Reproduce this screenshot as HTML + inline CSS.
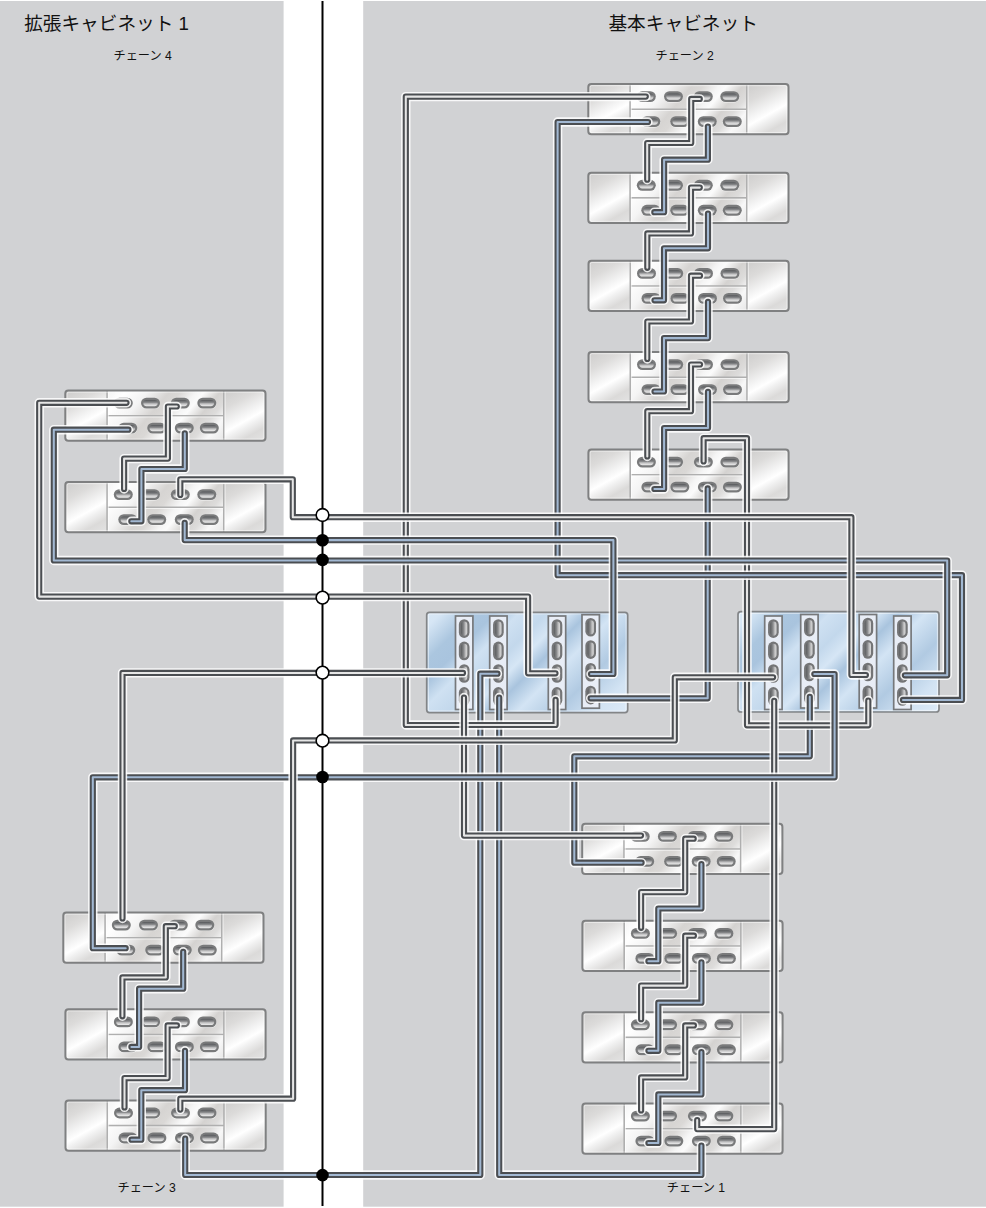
<!DOCTYPE html>
<html lang="ja"><head><meta charset="utf-8"><title>Cabling diagram</title>
<style>
html,body{margin:0;padding:0;background:#fff}
body{width:986px;height:1208px;position:relative;overflow:hidden;font-family:"Liberation Sans",sans-serif}
svg{position:absolute;left:0;top:0;display:block}
.t{position:absolute;white-space:nowrap;color:transparent;line-height:1;overflow:hidden;height:1.1em}
</style></head><body>
<svg width="986" height="1208" viewBox="0 0 986 1208">
<defs>
<linearGradient id="gS" gradientUnits="userSpaceOnUse" x1="0" y1="0" x2="31.7" y2="56.8">
<stop offset="0" stop-color="#cdcccb"/><stop offset=".25" stop-color="#dcdbda"/><stop offset=".46" stop-color="#f3f3f3"/><stop offset=".57" stop-color="#ffffff"/><stop offset=".65" stop-color="#f1f1f1"/><stop offset=".8" stop-color="#dbdad9"/><stop offset="1" stop-color="#e4e4e4"/>
</linearGradient>
<linearGradient id="gS2" href="#gS" x1="158.5" y1="0" x2="190.2" y2="56.8"/>
<linearGradient id="gM" gradientUnits="userSpaceOnUse" x1="41.8" y1="0" x2="135.7" y2="78">
<stop offset="0" stop-color="#f3f3f3"/><stop offset=".12" stop-color="#ffffff"/><stop offset=".26" stop-color="#f4f4f4"/><stop offset=".40" stop-color="#d6d4d2"/><stop offset=".47" stop-color="#dad8d6"/><stop offset=".57" stop-color="#f5f5f5"/><stop offset=".62" stop-color="#fbfbfb"/><stop offset=".72" stop-color="#d4d2d0"/><stop offset=".80" stop-color="#dddcdb"/><stop offset=".88" stop-color="#f8f8f8"/><stop offset="1" stop-color="#e6e6e6"/>
</linearGradient>
<linearGradient id="gP" x1="0" y1="0" x2="0" y2="1">
<stop offset="0" stop-color="#55575a"/><stop offset=".4" stop-color="#88898b"/><stop offset=".62" stop-color="#c2c2c3"/><stop offset="1" stop-color="#eeeeee"/>
</linearGradient>
<linearGradient id="gV" x1="0" y1="0" x2="1" y2="0">
<stop offset="0" stop-color="#5a5c5e"/><stop offset=".45" stop-color="#8c8d8f"/><stop offset=".7" stop-color="#bdbdbe"/><stop offset="1" stop-color="#dcdcdc"/>
</linearGradient>
<linearGradient id="gC" x1="0" y1="0" x2="1.2" y2="0.597">
<stop offset="0" stop-color="#d9e8f6"/><stop offset=".05" stop-color="#d6e6f5"/><stop offset=".16" stop-color="#abc6df"/><stop offset=".23" stop-color="#a9c4de"/><stop offset=".31" stop-color="#cfe1f2"/><stop offset=".40" stop-color="#c3d8ec"/><stop offset=".47" stop-color="#d6e6f5"/><stop offset=".54" stop-color="#a9c4de"/><stop offset=".63" stop-color="#d3e4f4"/><stop offset=".76" stop-color="#b1cae2"/><stop offset=".89" stop-color="#d2e3f3"/><stop offset="1" stop-color="#dceaf8"/>
</linearGradient>
<g id="pt"><rect x="-9.5" y="-4.9" width="19" height="10.9" rx="5.45" fill="#fff" opacity=".75"/><rect x="-9.5" y="-5.45" width="19" height="10.9" rx="5.45" fill="#797a7b"/><rect x="-7.2" y="-3.15" width="14.4" height="6.3" rx="3.15" fill="url(#gP)"/></g>
<g id="pv"><rect x="-4.9" y="-9.3" width="10.7" height="18.6" rx="5.35" fill="#fff" opacity=".7"/><rect x="-5.35" y="-9.3" width="10.7" height="18.6" rx="5.35" fill="#747577"/><rect x="-3.1" y="-7.05" width="6.2" height="14.1" rx="3.1" fill="url(#gV)"/></g>
<g id="shelf">
<rect x="0" y="0" width="200.2" height="50.3" rx="3" fill="#e8e8e8"/>
<rect x="0" y="0" width="43" height="50.3" rx="3" fill="url(#gS)"/>
<rect x="157.5" y="0" width="42.7" height="50.3" rx="3" fill="url(#gS2)"/>
<rect x="41.8" y="0" width="116.7" height="50.3" fill="url(#gM)"/>
<path d="M41.8 0V50.3 M158.5 0V50.3 M41.8 25.2H158.5" stroke="#afafaf" stroke-width="1.6" fill="none"/>
<path d="M43.1 1V50.3 M159.8 1V50.3 M43 26.5H157.8" stroke="#ffffff" stroke-width="1" fill="none" opacity=".6"/>
<rect x="1.7" y="1.7" width="196.8" height="46.9" rx="1.8" fill="none" stroke="#fff" stroke-width="1" opacity=".5"/>
<rect x="0" y="0" width="200.2" height="50.3" rx="3" fill="none" stroke="#7f8081" stroke-width="2"/>
<use href="#pt" x="58.0" y="12.6"/><use href="#pt" x="85.2" y="12.6"/><use href="#pt" x="115.0" y="12.6"/><use href="#pt" x="141.5" y="12.6"/><use href="#pt" x="62.5" y="37.6"/><use href="#pt" x="91.4" y="37.6"/><use href="#pt" x="119.0" y="37.6"/><use href="#pt" x="144.0" y="37.6"/>
</g>
</defs>
<rect width="986" height="1208" fill="#fff"/>
<rect x="0" y="1" width="283.6" height="1205.7" fill="#d1d2d4"/>
<rect x="363.2" y="1" width="622.8" height="1205.7" fill="#d1d2d4"/>
<use href="#shelf" x="588.3" y="84.0"/>
<use href="#shelf" x="588.3" y="172.7"/>
<use href="#shelf" x="588.5" y="260.8"/>
<use href="#shelf" x="588.5" y="352.0"/>
<use href="#shelf" x="588.4" y="449.5"/>
<use href="#shelf" x="65.3" y="390.5"/>
<use href="#shelf" x="65.3" y="482.0"/>
<use href="#shelf" x="63.3" y="912.5"/>
<use href="#shelf" x="65.4" y="1009.3"/>
<use href="#shelf" x="65.5" y="1100.4"/>
<use href="#shelf" x="582.2" y="823.8"/>
<use href="#shelf" x="582.4" y="920.8"/>
<use href="#shelf" x="582.4" y="1012.2"/>
<use href="#shelf" x="582.4" y="1103.5"/>
<rect x="426.7" y="612.3" width="201.0" height="100.3" rx="2.8" fill="url(#gC)"/>
<rect x="428.3" y="613.9" width="197.8" height="97.1" rx="1.6" fill="none" stroke="#fff" stroke-opacity=".55" stroke-width="1"/>
<rect x="426.7" y="612.3" width="201.0" height="100.3" rx="2.8" fill="none" stroke="#838587" stroke-width="1.7"/>
<rect x="455.5" y="616.0" width="17.4" height="93.5" fill="#e8edf6" stroke="#76787b" stroke-width="1.7"/>
<use href="#pv" x="464.2" y="628.6"/>
<use href="#pv" x="464.2" y="650.9"/>
<use href="#pv" x="464.2" y="673.5"/>
<use href="#pv" x="464.2" y="696.4"/>
<rect x="489.7" y="616.0" width="17.4" height="93.5" fill="#e8edf6" stroke="#76787b" stroke-width="1.7"/>
<use href="#pv" x="498.4" y="628.6"/>
<use href="#pv" x="498.4" y="650.9"/>
<use href="#pv" x="498.4" y="673.5"/>
<use href="#pv" x="498.4" y="696.4"/>
<rect x="548.3" y="616.0" width="17.4" height="93.5" fill="#e8edf6" stroke="#76787b" stroke-width="1.7"/>
<use href="#pv" x="557.0" y="628.6"/>
<use href="#pv" x="557.0" y="650.9"/>
<use href="#pv" x="557.0" y="673.5"/>
<use href="#pv" x="557.0" y="696.4"/>
<rect x="582.0" y="614.7" width="17.4" height="93.5" fill="#e8edf6" stroke="#76787b" stroke-width="1.7"/>
<use href="#pv" x="590.7" y="627.3"/>
<use href="#pv" x="590.7" y="649.6"/>
<use href="#pv" x="590.7" y="672.2"/>
<use href="#pv" x="590.7" y="695.1"/>
<rect x="738.0" y="611.7" width="201.0" height="100.3" rx="2.8" fill="url(#gC)"/>
<rect x="739.6" y="613.3000000000001" width="197.8" height="97.1" rx="1.6" fill="none" stroke="#fff" stroke-opacity=".55" stroke-width="1"/>
<rect x="738.0" y="611.7" width="201.0" height="100.3" rx="2.8" fill="none" stroke="#838587" stroke-width="1.7"/>
<rect x="764.7" y="616.0" width="17.4" height="93.5" fill="#e8edf6" stroke="#76787b" stroke-width="1.7"/>
<use href="#pv" x="773.4" y="628.6"/>
<use href="#pv" x="773.4" y="650.9"/>
<use href="#pv" x="773.4" y="673.5"/>
<use href="#pv" x="773.4" y="696.4"/>
<rect x="800.7" y="614.5" width="17.4" height="93.5" fill="#e8edf6" stroke="#76787b" stroke-width="1.7"/>
<use href="#pv" x="809.4" y="627.1"/>
<use href="#pv" x="809.4" y="649.4"/>
<use href="#pv" x="809.4" y="672.0"/>
<use href="#pv" x="809.4" y="694.9"/>
<rect x="859.2" y="614.5" width="17.4" height="93.5" fill="#e8edf6" stroke="#76787b" stroke-width="1.7"/>
<use href="#pv" x="867.9" y="627.1"/>
<use href="#pv" x="867.9" y="649.4"/>
<use href="#pv" x="867.9" y="672.0"/>
<use href="#pv" x="867.9" y="694.9"/>
<rect x="893.7" y="616.0" width="17.4" height="93.5" fill="#e8edf6" stroke="#76787b" stroke-width="1.7"/>
<use href="#pv" x="902.4" y="628.6"/>
<use href="#pv" x="902.4" y="650.9"/>
<use href="#pv" x="902.4" y="673.5"/>
<use href="#pv" x="902.4" y="696.4"/>
<path d="M322.5 1V1206" stroke="#000" stroke-width="2"/>
<g fill="none" stroke-linejoin="round" stroke-linecap="round"><path d="M699.8 98.9 L691.2 98.9 L691.2 143.0 L647.2 143.0 L647.2 179.7" stroke="#fff" stroke-opacity=".85" stroke-width="9.4"/><path d="M699.8 98.9 L691.2 98.9 L691.2 143.0 L647.2 143.0 L647.2 179.7" stroke="#4b4e52" stroke-width="6.2"/><path d="M699.8 98.9 L691.2 98.9 L691.2 143.0 L647.2 143.0 L647.2 179.7" stroke="#e6e6e6" stroke-width="2.05"/></g>
<g fill="none" stroke-linejoin="round" stroke-linecap="round"><path d="M707.9 126.6 L707.9 159.7 L664.1 159.7 L664.1 212.2 L654.3 212.2" stroke="#fff" stroke-opacity=".85" stroke-width="9.4"/><path d="M707.9 126.6 L707.9 159.7 L664.1 159.7 L664.1 212.2 L654.3 212.2" stroke="#4b4e52" stroke-width="6.2"/><path d="M707.9 126.6 L707.9 159.7 L664.1 159.7 L664.1 212.2 L654.3 212.2" stroke="#a2b8d2" stroke-width="2.05"/></g>
<g fill="none" stroke-linejoin="round" stroke-linecap="round"><path d="M699.8 187.6 L691.0 187.6 L691.0 233.4 L647.3 233.4 L647.3 267.8" stroke="#fff" stroke-opacity=".85" stroke-width="9.4"/><path d="M699.8 187.6 L691.0 187.6 L691.0 233.4 L647.3 233.4 L647.3 267.8" stroke="#4b4e52" stroke-width="6.2"/><path d="M699.8 187.6 L691.0 187.6 L691.0 233.4 L647.3 233.4 L647.3 267.8" stroke="#e6e6e6" stroke-width="2.05"/></g>
<g fill="none" stroke-linejoin="round" stroke-linecap="round"><path d="M708.0 213.6 L708.0 248.3 L664.0 248.3 L664.0 300.3 L654.5 300.3" stroke="#fff" stroke-opacity=".85" stroke-width="9.4"/><path d="M708.0 213.6 L708.0 248.3 L664.0 248.3 L664.0 300.3 L654.5 300.3" stroke="#4b4e52" stroke-width="6.2"/><path d="M708.0 213.6 L708.0 248.3 L664.0 248.3 L664.0 300.3 L654.5 300.3" stroke="#a2b8d2" stroke-width="2.05"/></g>
<g fill="none" stroke-linejoin="round" stroke-linecap="round"><path d="M700.0 275.7 L691.0 275.7 L691.0 321.5 L647.3 321.5 L647.3 359.0" stroke="#fff" stroke-opacity=".85" stroke-width="9.4"/><path d="M700.0 275.7 L691.0 275.7 L691.0 321.5 L647.3 321.5 L647.3 359.0" stroke="#4b4e52" stroke-width="6.2"/><path d="M700.0 275.7 L691.0 275.7 L691.0 321.5 L647.3 321.5 L647.3 359.0" stroke="#e6e6e6" stroke-width="2.05"/></g>
<g fill="none" stroke-linejoin="round" stroke-linecap="round"><path d="M708.0 301.8 L708.0 338.1 L664.0 338.1 L664.0 391.5 L654.5 391.5" stroke="#fff" stroke-opacity=".85" stroke-width="9.4"/><path d="M708.0 301.8 L708.0 338.1 L664.0 338.1 L664.0 391.5 L654.5 391.5" stroke="#4b4e52" stroke-width="6.2"/><path d="M708.0 301.8 L708.0 338.1 L664.0 338.1 L664.0 391.5 L654.5 391.5" stroke="#a2b8d2" stroke-width="2.05"/></g>
<g fill="none" stroke-linejoin="round" stroke-linecap="round"><path d="M700.0 364.5 L691.0 364.5 L691.0 411.2 L647.3 411.2 L647.3 456.5" stroke="#fff" stroke-opacity=".85" stroke-width="9.4"/><path d="M700.0 364.5 L691.0 364.5 L691.0 411.2 L647.3 411.2 L647.3 456.5" stroke="#4b4e52" stroke-width="6.2"/><path d="M700.0 364.5 L691.0 364.5 L691.0 411.2 L647.3 411.2 L647.3 456.5" stroke="#e6e6e6" stroke-width="2.05"/></g>
<g fill="none" stroke-linejoin="round" stroke-linecap="round"><path d="M708.0 391.8 L708.0 428.0 L664.1 428.0 L664.1 489.0 L654.4 489.0" stroke="#fff" stroke-opacity=".85" stroke-width="9.4"/><path d="M708.0 391.8 L708.0 428.0 L664.1 428.0 L664.1 489.0 L654.4 489.0" stroke="#4b4e52" stroke-width="6.2"/><path d="M708.0 391.8 L708.0 428.0 L664.1 428.0 L664.1 489.0 L654.4 489.0" stroke="#a2b8d2" stroke-width="2.05"/></g>
<g fill="none" stroke-linejoin="round" stroke-linecap="round"><path d="M176.8 406.5 L167.9 406.5 L167.9 458.6 L124.1 458.6 L124.1 489.0" stroke="#fff" stroke-opacity=".85" stroke-width="9.4"/><path d="M176.8 406.5 L167.9 406.5 L167.9 458.6 L124.1 458.6 L124.1 489.0" stroke="#4b4e52" stroke-width="6.2"/><path d="M176.8 406.5 L167.9 406.5 L167.9 458.6 L124.1 458.6 L124.1 489.0" stroke="#e6e6e6" stroke-width="2.05"/></g>
<g fill="none" stroke-linejoin="round" stroke-linecap="round"><path d="M184.8 433.3 L184.8 469.0 L141.4 469.0 L141.4 521.3 L131.3 521.3" stroke="#fff" stroke-opacity=".85" stroke-width="9.4"/><path d="M184.8 433.3 L184.8 469.0 L141.4 469.0 L141.4 521.3 L131.3 521.3" stroke="#4b4e52" stroke-width="6.2"/><path d="M184.8 433.3 L184.8 469.0 L141.4 469.0 L141.4 521.3 L131.3 521.3" stroke="#a2b8d2" stroke-width="2.05"/></g>
<g fill="none" stroke-linejoin="round" stroke-linecap="round"><path d="M174.8 926.2 L165.8 926.2 L165.8 977.4 L122.4 977.4 L122.4 1016.3" stroke="#fff" stroke-opacity=".85" stroke-width="9.4"/><path d="M174.8 926.2 L165.8 926.2 L165.8 977.4 L122.4 977.4 L122.4 1016.3" stroke="#4b4e52" stroke-width="6.2"/><path d="M174.8 926.2 L165.8 926.2 L165.8 977.4 L122.4 977.4 L122.4 1016.3" stroke="#e6e6e6" stroke-width="2.05"/></g>
<g fill="none" stroke-linejoin="round" stroke-linecap="round"><path d="M183.2 951.8 L183.2 988.7 L139.1 988.7 L139.1 1046.9 L131.4 1046.9" stroke="#fff" stroke-opacity=".85" stroke-width="9.4"/><path d="M183.2 951.8 L183.2 988.7 L139.1 988.7 L139.1 1046.9 L131.4 1046.9" stroke="#4b4e52" stroke-width="6.2"/><path d="M183.2 951.8 L183.2 988.7 L139.1 988.7 L139.1 1046.9 L131.4 1046.9" stroke="#a2b8d2" stroke-width="2.05"/></g>
<g fill="none" stroke-linejoin="round" stroke-linecap="round"><path d="M176.9 1025.4 L167.6 1025.4 L167.6 1078.1 L124.5 1078.1 L124.5 1107.4" stroke="#fff" stroke-opacity=".85" stroke-width="9.4"/><path d="M176.9 1025.4 L167.6 1025.4 L167.6 1078.1 L124.5 1078.1 L124.5 1107.4" stroke="#4b4e52" stroke-width="6.2"/><path d="M176.9 1025.4 L167.6 1025.4 L167.6 1078.1 L124.5 1078.1 L124.5 1107.4" stroke="#e6e6e6" stroke-width="2.05"/></g>
<g fill="none" stroke-linejoin="round" stroke-linecap="round"><path d="M185.0 1050.8 L185.0 1090.2 L141.3 1090.2 L141.3 1139.7 L131.5 1139.7" stroke="#fff" stroke-opacity=".85" stroke-width="9.4"/><path d="M185.0 1050.8 L185.0 1090.2 L141.3 1090.2 L141.3 1139.7 L131.5 1139.7" stroke="#4b4e52" stroke-width="6.2"/><path d="M185.0 1050.8 L185.0 1090.2 L141.3 1090.2 L141.3 1139.7 L131.5 1139.7" stroke="#a2b8d2" stroke-width="2.05"/></g>
<g fill="none" stroke-linejoin="round" stroke-linecap="round"><path d="M693.7 838.7 L685.2 838.7 L685.2 892.1 L641.1 892.1 L641.1 927.8" stroke="#fff" stroke-opacity=".85" stroke-width="9.4"/><path d="M693.7 838.7 L685.2 838.7 L685.2 892.1 L641.1 892.1 L641.1 927.8" stroke="#4b4e52" stroke-width="6.2"/><path d="M693.7 838.7 L685.2 838.7 L685.2 892.1 L641.1 892.1 L641.1 927.8" stroke="#e6e6e6" stroke-width="2.05"/></g>
<g fill="none" stroke-linejoin="round" stroke-linecap="round"><path d="M701.4 864.1 L701.4 908.5 L658.3 908.5 L658.3 961.2 L648.4 961.2" stroke="#fff" stroke-opacity=".85" stroke-width="9.4"/><path d="M701.4 864.1 L701.4 908.5 L658.3 908.5 L658.3 961.2 L648.4 961.2" stroke="#4b4e52" stroke-width="6.2"/><path d="M701.4 864.1 L701.4 908.5 L658.3 908.5 L658.3 961.2 L648.4 961.2" stroke="#a2b8d2" stroke-width="2.05"/></g>
<g fill="none" stroke-linejoin="round" stroke-linecap="round"><path d="M693.9 935.7 L685.2 935.7 L685.2 985.6 L641.1 985.6 L641.1 1019.2" stroke="#fff" stroke-opacity=".85" stroke-width="9.4"/><path d="M693.9 935.7 L685.2 935.7 L685.2 985.6 L641.1 985.6 L641.1 1019.2" stroke="#4b4e52" stroke-width="6.2"/><path d="M693.9 935.7 L685.2 935.7 L685.2 985.6 L641.1 985.6 L641.1 1019.2" stroke="#e6e6e6" stroke-width="2.05"/></g>
<g fill="none" stroke-linejoin="round" stroke-linecap="round"><path d="M701.4 962.3 L701.4 1002.7 L658.3 1002.7 L658.3 1050.8 L648.4 1050.8" stroke="#fff" stroke-opacity=".85" stroke-width="9.4"/><path d="M701.4 962.3 L701.4 1002.7 L658.3 1002.7 L658.3 1050.8 L648.4 1050.8" stroke="#4b4e52" stroke-width="6.2"/><path d="M701.4 962.3 L701.4 1002.7 L658.3 1002.7 L658.3 1050.8 L648.4 1050.8" stroke="#a2b8d2" stroke-width="2.05"/></g>
<g fill="none" stroke-linejoin="round" stroke-linecap="round"><path d="M693.9 1025.4 L685.2 1025.4 L685.2 1077.4 L641.1 1077.4 L641.1 1110.5" stroke="#fff" stroke-opacity=".85" stroke-width="9.4"/><path d="M693.9 1025.4 L685.2 1025.4 L685.2 1077.4 L641.1 1077.4 L641.1 1110.5" stroke="#4b4e52" stroke-width="6.2"/><path d="M693.9 1025.4 L685.2 1025.4 L685.2 1077.4 L641.1 1077.4 L641.1 1110.5" stroke="#e6e6e6" stroke-width="2.05"/></g>
<g fill="none" stroke-linejoin="round" stroke-linecap="round"><path d="M701.4 1052.1 L701.4 1094.4 L658.3 1094.4 L658.3 1143.0 L648.4 1143.0" stroke="#fff" stroke-opacity=".85" stroke-width="9.4"/><path d="M701.4 1052.1 L701.4 1094.4 L658.3 1094.4 L658.3 1143.0 L648.4 1143.0" stroke="#4b4e52" stroke-width="6.2"/><path d="M701.4 1052.1 L701.4 1094.4 L658.3 1094.4 L658.3 1143.0 L648.4 1143.0" stroke="#a2b8d2" stroke-width="2.05"/></g>
<g fill="none" stroke-linejoin="round" stroke-linecap="round"><path d="M322.5 777.3 L92.8 777.3 L92.8 948.2 L125.7 948.2" stroke="#fff" stroke-opacity=".85" stroke-width="9.4"/><path d="M322.5 777.3 L92.8 777.3 L92.8 948.2 L125.7 948.2" stroke="#4b4e52" stroke-width="6.2"/><path d="M322.5 777.3 L92.8 777.3 L92.8 948.2 L125.7 948.2" stroke="#a2b8d2" stroke-width="2.05"/></g>
<g fill="none" stroke-linejoin="round" stroke-linecap="round"><path d="M185.2 1138.5 L185.2 1175.0 L322.5 1175.0" stroke="#fff" stroke-opacity=".85" stroke-width="9.4"/><path d="M185.2 1138.5 L185.2 1175.0 L322.5 1175.0" stroke="#4b4e52" stroke-width="6.2"/><path d="M185.2 1138.5 L185.2 1175.0 L322.5 1175.0" stroke="#a2b8d2" stroke-width="2.05"/></g>
<g fill="none" stroke-linejoin="round" stroke-linecap="round"><path d="M184.7 522.8 L184.7 540.1 L322.5 540.1" stroke="#fff" stroke-opacity=".85" stroke-width="9.4"/><path d="M184.7 522.8 L184.7 540.1 L322.5 540.1" stroke="#4b4e52" stroke-width="6.2"/><path d="M184.7 522.8 L184.7 540.1 L322.5 540.1" stroke="#a2b8d2" stroke-width="2.05"/></g>
<g fill="none" stroke-linejoin="round" stroke-linecap="round"><path d="M128.4 429.7 L53.8 429.7 L53.8 560.5 L322.5 560.5" stroke="#fff" stroke-opacity=".85" stroke-width="9.4"/><path d="M128.4 429.7 L53.8 429.7 L53.8 560.5 L322.5 560.5" stroke="#4b4e52" stroke-width="6.2"/><path d="M128.4 429.7 L53.8 429.7 L53.8 560.5 L322.5 560.5" stroke="#a2b8d2" stroke-width="2.05"/></g>
<g fill="none" stroke-linejoin="round" stroke-linecap="round"><path d="M126.5 402.8 L39.2 402.8 L39.2 596.6 L322.5 596.6" stroke="#fff" stroke-opacity=".85" stroke-width="9.4"/><path d="M126.5 402.8 L39.2 402.8 L39.2 596.6 L322.5 596.6" stroke="#4b4e52" stroke-width="6.2"/><path d="M126.5 402.8 L39.2 402.8 L39.2 596.6 L322.5 596.6" stroke="#e6e6e6" stroke-width="2.05"/></g>
<g fill="none" stroke-linejoin="round" stroke-linecap="round"><path d="M180.3 494.9 L180.3 479.3 L292.8 479.3 L292.8 517.2 L322.5 517.2" stroke="#fff" stroke-opacity=".85" stroke-width="9.4"/><path d="M180.3 494.9 L180.3 479.3 L292.8 479.3 L292.8 517.2 L322.5 517.2" stroke="#4b4e52" stroke-width="6.2"/><path d="M180.3 494.9 L180.3 479.3 L292.8 479.3 L292.8 517.2 L322.5 517.2" stroke="#e6e6e6" stroke-width="2.05"/></g>
<g fill="none" stroke-linejoin="round" stroke-linecap="round"><path d="M322.5 672.9 L122.5 672.9 L122.5 918.5" stroke="#fff" stroke-opacity=".85" stroke-width="9.4"/><path d="M322.5 672.9 L122.5 672.9 L122.5 918.5" stroke="#4b4e52" stroke-width="6.2"/><path d="M322.5 672.9 L122.5 672.9 L122.5 918.5" stroke="#e6e6e6" stroke-width="2.05"/></g>
<g fill="none" stroke-linejoin="round" stroke-linecap="round"><path d="M322.5 740.4 L293.1 740.4 L293.1 1098.7 L180.3 1098.7 L180.3 1109.6" stroke="#fff" stroke-opacity=".85" stroke-width="9.4"/><path d="M322.5 740.4 L293.1 740.4 L293.1 1098.7 L180.3 1098.7 L180.3 1109.6" stroke="#4b4e52" stroke-width="6.2"/><path d="M322.5 740.4 L293.1 740.4 L293.1 1098.7 L180.3 1098.7 L180.3 1109.6" stroke="#e6e6e6" stroke-width="2.05"/></g>
<g fill="none" stroke-linejoin="round" stroke-linecap="round"><path d="M322.5 1175.0 L480.3 1175.0 L480.3 673.7 L497.5 673.7" stroke="#fff" stroke-opacity=".85" stroke-width="9.4"/><path d="M322.5 1175.0 L480.3 1175.0 L480.3 673.7 L497.5 673.7" stroke="#4b4e52" stroke-width="6.2"/><path d="M322.5 1175.0 L480.3 1175.0 L480.3 673.7 L497.5 673.7" stroke="#a2b8d2" stroke-width="2.05"/></g>
<g fill="none" stroke-linejoin="round" stroke-linecap="round"><path d="M499.2 697.5 L499.2 1175.0 L701.4 1175.0 L701.4 1145.6" stroke="#fff" stroke-opacity=".85" stroke-width="9.4"/><path d="M499.2 697.5 L499.2 1175.0 L701.4 1175.0 L701.4 1145.6" stroke="#4b4e52" stroke-width="6.2"/><path d="M499.2 697.5 L499.2 1175.0 L701.4 1175.0 L701.4 1145.6" stroke="#a2b8d2" stroke-width="2.05"/></g>
<g fill="none" stroke-linejoin="round" stroke-linecap="round"><path d="M809.8 696.8 L809.8 756.3 L574.3 756.3 L574.3 862.7 L641.6 862.7" stroke="#fff" stroke-opacity=".85" stroke-width="9.4"/><path d="M809.8 696.8 L809.8 756.3 L574.3 756.3 L574.3 862.7 L641.6 862.7" stroke="#4b4e52" stroke-width="6.2"/><path d="M809.8 696.8 L809.8 756.3 L574.3 756.3 L574.3 862.7 L641.6 862.7" stroke="#a2b8d2" stroke-width="2.05"/></g>
<g fill="none" stroke-linejoin="round" stroke-linecap="round"><path d="M707.7 488.4 L707.7 698.3 L590.6 698.3" stroke="#fff" stroke-opacity=".85" stroke-width="9.4"/><path d="M707.7 488.4 L707.7 698.3 L590.6 698.3" stroke="#4b4e52" stroke-width="6.2"/><path d="M707.7 488.4 L707.7 698.3 L590.6 698.3" stroke="#a2b8d2" stroke-width="2.05"/></g>
<g fill="none" stroke-linejoin="round" stroke-linecap="round"><path d="M703.6 461.5 L703.6 438.2 L747.0 438.2 L747.0 725.3 L868.3 725.3 L868.3 700.5" stroke="#fff" stroke-opacity=".85" stroke-width="9.4"/><path d="M703.6 461.5 L703.6 438.2 L747.0 438.2 L747.0 725.3 L868.3 725.3 L868.3 700.5" stroke="#4b4e52" stroke-width="6.2"/><path d="M703.6 461.5 L703.6 438.2 L747.0 438.2 L747.0 725.3 L868.3 725.3 L868.3 700.5" stroke="#e6e6e6" stroke-width="2.05"/></g>
<g fill="none" stroke-linejoin="round" stroke-linecap="round"><path d="M645.8 96.6 L405.8 96.6 L405.8 725.0 L555.6 725.0 L555.6 699.8" stroke="#fff" stroke-opacity=".85" stroke-width="9.4"/><path d="M645.8 96.6 L405.8 96.6 L405.8 725.0 L555.6 725.0 L555.6 699.8" stroke="#4b4e52" stroke-width="6.2"/><path d="M645.8 96.6 L405.8 96.6 L405.8 725.0 L555.6 725.0 L555.6 699.8" stroke="#e6e6e6" stroke-width="2.05"/></g>
<g fill="none" stroke-linejoin="round" stroke-linecap="round"><path d="M648.0 122.0 L557.6 122.0 L557.6 575.2 L962.0 575.2 L962.0 699.9 L903.0 699.9" stroke="#fff" stroke-opacity=".85" stroke-width="9.4"/><path d="M648.0 122.0 L557.6 122.0 L557.6 575.2 L962.0 575.2 L962.0 699.9 L903.0 699.9" stroke="#4b4e52" stroke-width="6.2"/><path d="M648.0 122.0 L557.6 122.0 L557.6 575.2 L962.0 575.2 L962.0 699.9 L903.0 699.9" stroke="#a2b8d2" stroke-width="2.05"/></g>
<g fill="none" stroke-linejoin="round" stroke-linecap="round"><path d="M322.5 560.5 L947.2 560.5 L947.2 675.3 L904.9 675.3" stroke="#fff" stroke-opacity=".85" stroke-width="9.4"/><path d="M322.5 560.5 L947.2 560.5 L947.2 675.3 L904.9 675.3" stroke="#4b4e52" stroke-width="6.2"/><path d="M322.5 560.5 L947.2 560.5 L947.2 675.3 L904.9 675.3" stroke="#a2b8d2" stroke-width="2.05"/></g>
<g fill="none" stroke-linejoin="round" stroke-linecap="round"><path d="M322.5 517.2 L851.4 517.2 L851.4 675.0 L865.9 675.0" stroke="#fff" stroke-opacity=".85" stroke-width="9.4"/><path d="M322.5 517.2 L851.4 517.2 L851.4 675.0 L865.9 675.0" stroke="#4b4e52" stroke-width="6.2"/><path d="M322.5 517.2 L851.4 517.2 L851.4 675.0 L865.9 675.0" stroke="#e6e6e6" stroke-width="2.05"/></g>
<g fill="none" stroke-linejoin="round" stroke-linecap="round"><path d="M322.5 540.1 L613.4 540.1 L613.4 674.0 L591.0 674.0" stroke="#fff" stroke-opacity=".85" stroke-width="9.4"/><path d="M322.5 540.1 L613.4 540.1 L613.4 674.0 L591.0 674.0" stroke="#4b4e52" stroke-width="6.2"/><path d="M322.5 540.1 L613.4 540.1 L613.4 674.0 L591.0 674.0" stroke="#a2b8d2" stroke-width="2.05"/></g>
<g fill="none" stroke-linejoin="round" stroke-linecap="round"><path d="M322.5 596.6 L528.1 596.6 L528.1 673.3 L555.5 673.3" stroke="#fff" stroke-opacity=".85" stroke-width="9.4"/><path d="M322.5 596.6 L528.1 596.6 L528.1 673.3 L555.5 673.3" stroke="#4b4e52" stroke-width="6.2"/><path d="M322.5 596.6 L528.1 596.6 L528.1 673.3 L555.5 673.3" stroke="#e6e6e6" stroke-width="2.05"/></g>
<g fill="none" stroke-linejoin="round" stroke-linecap="round"><path d="M322.5 672.9 L463.0 672.9" stroke="#fff" stroke-opacity=".85" stroke-width="9.4"/><path d="M322.5 672.9 L463.0 672.9" stroke="#4b4e52" stroke-width="6.2"/><path d="M322.5 672.9 L463.0 672.9" stroke="#e6e6e6" stroke-width="2.05"/></g>
<g fill="none" stroke-linejoin="round" stroke-linecap="round"><path d="M464.0 697.5 L464.0 835.6 L641.0 835.6" stroke="#fff" stroke-opacity=".85" stroke-width="9.4"/><path d="M464.0 697.5 L464.0 835.6 L641.0 835.6" stroke="#4b4e52" stroke-width="6.2"/><path d="M464.0 697.5 L464.0 835.6 L641.0 835.6" stroke="#e6e6e6" stroke-width="2.05"/></g>
<g fill="none" stroke-linejoin="round" stroke-linecap="round"><path d="M774.2 700.8 L774.2 1129.1 L697.2 1129.1 L697.2 1120.1" stroke="#fff" stroke-opacity=".85" stroke-width="9.4"/><path d="M774.2 700.8 L774.2 1129.1 L697.2 1129.1 L697.2 1120.1" stroke="#4b4e52" stroke-width="6.2"/><path d="M774.2 700.8 L774.2 1129.1 L697.2 1129.1 L697.2 1120.1" stroke="#e6e6e6" stroke-width="2.05"/></g>
<g fill="none" stroke-linejoin="round" stroke-linecap="round"><path d="M322.5 740.4 L674.8 740.4 L674.8 677.3 L773.1 677.3" stroke="#fff" stroke-opacity=".85" stroke-width="9.4"/><path d="M322.5 740.4 L674.8 740.4 L674.8 677.3 L773.1 677.3" stroke="#4b4e52" stroke-width="6.2"/><path d="M322.5 740.4 L674.8 740.4 L674.8 677.3 L773.1 677.3" stroke="#e6e6e6" stroke-width="2.05"/></g>
<g fill="none" stroke-linejoin="round" stroke-linecap="round"><path d="M322.5 777.3 L834.6 777.3 L834.6 674.0 L814.3 674.0" stroke="#fff" stroke-opacity=".85" stroke-width="9.4"/><path d="M322.5 777.3 L834.6 777.3 L834.6 674.0 L814.3 674.0" stroke="#4b4e52" stroke-width="6.2"/><path d="M322.5 777.3 L834.6 777.3 L834.6 674.0 L814.3 674.0" stroke="#a2b8d2" stroke-width="2.05"/></g>
<circle cx="322.5" cy="515.0" r="6.35" fill="#fff" stroke="#000" stroke-width="1.6"/>
<circle cx="322.5" cy="540.2" r="6.3" fill="#000"/>
<circle cx="322.5" cy="559.9" r="6.3" fill="#000"/>
<circle cx="322.5" cy="597.6" r="6.35" fill="#fff" stroke="#000" stroke-width="1.6"/>
<circle cx="322.5" cy="672.6" r="6.35" fill="#fff" stroke="#000" stroke-width="1.6"/>
<circle cx="322.5" cy="740.7" r="6.35" fill="#fff" stroke="#000" stroke-width="1.6"/>
<circle cx="322.5" cy="777.0" r="6.3" fill="#000"/>
<circle cx="322.5" cy="1175.1" r="6.3" fill="#000"/>
<text x="24.2" y="30.3" font-size="18.65" fill="#111" font-family="&quot;Liberation Sans&quot;, &quot;Noto Sans CJK JP&quot;, sans-serif">拡張キャビネット 1</text>
<text x="608.4" y="30.3" font-size="18.7" fill="#111" font-family="&quot;Liberation Sans&quot;, &quot;Noto Sans CJK JP&quot;, sans-serif">基本キャビネット</text>
<text x="113.5" y="60.1" font-size="12.2" fill="#111" font-family="&quot;Liberation Sans&quot;, &quot;Noto Sans CJK JP&quot;, sans-serif">チェーン 4</text>
<text x="655.5" y="60.1" font-size="12.2" fill="#111" font-family="&quot;Liberation Sans&quot;, &quot;Noto Sans CJK JP&quot;, sans-serif">チェーン 2</text>
<text x="117.5" y="1192.2" font-size="12.2" fill="#111" font-family="&quot;Liberation Sans&quot;, &quot;Noto Sans CJK JP&quot;, sans-serif">チェーン 3</text>
<text x="666.8" y="1192.2" font-size="12.2" fill="#111" font-family="&quot;Liberation Sans&quot;, &quot;Noto Sans CJK JP&quot;, sans-serif">チェーン 1</text>
</svg>
</body></html>
